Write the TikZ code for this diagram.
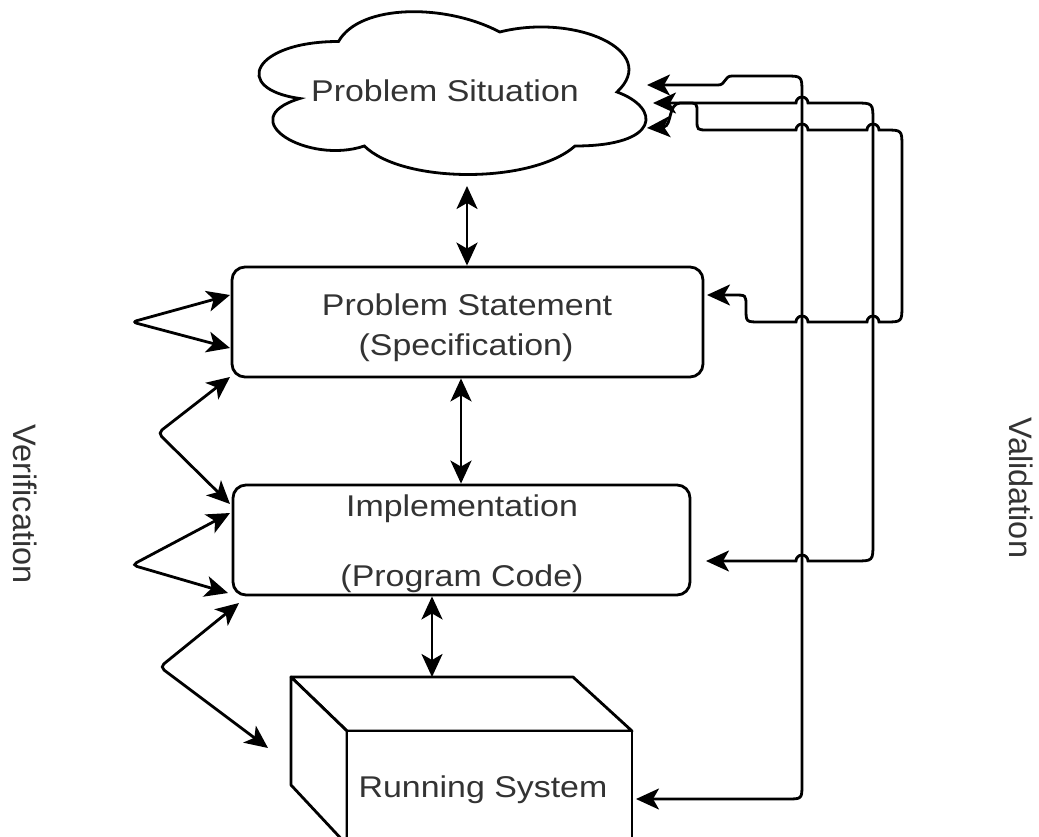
\documentclass[tikz,border=0pt]{standalone}
\usepackage{fontspec}
\setmainfont{Liberation Sans}
\newfontfamily\widefont[FakeStretch=1.13]{Liberation Sans}
\usetikzlibrary{arrows.meta}
\begin{document}
\begin{tikzpicture}[x=1pt,y=-1pt,
  ln/.style={line width=2.8pt, draw=black},
  tip/.style={ln, {Stealth[length=23pt,width=21pt,inset=6pt]}-{Stealth[length=23pt,width=21pt,inset=6pt]}},
  boxnode/.style={ln, rounded corners=13pt, fill=white, inner sep=0pt},
  lbl/.style={font=\widefont\fontsize{30}{36}\selectfont, text=black!80, inner sep=0pt, anchor=base},
  side/.style={font=\fontsize{32.5}{38}\selectfont, text=black!80, rotate=-90, inner sep=0pt}
]
\useasboundingbox (0,0) rectangle (1039,837);

% cloud
\draw[ln, fill=white] (338.5,41.5) .. controls (252.5,41.5) and (231,89) .. (299.8,98.5)
  .. controls (231,119.4) and (308.4,165) .. (364.3,146)
  .. controls (403,184) and (532,184) .. (575,146)
  .. controls (661,146) and (661,108) .. (617,92)
  .. controls (661,51) and (575,13) .. (499.75,32)
  .. controls (446,3.5) and (360,3.5) .. (338.5,41.5) -- cycle;
\node[lbl] (sit) at (445,102) {Problem Situation};

% boxes
\node[boxnode, minimum width=471pt, minimum height=110pt] (stmt) at (467.5,322) {};
\node[lbl] (t1) at (467,315) {Problem Statement};
\node[lbl] (t2) at (466,355) {(Specification)};
\node[boxnode, minimum width=457pt, minimum height=110pt] (impl) at (461.5,540) {};
\node[lbl] (t3) at (462,516) {Implementation};
\node[lbl] (t4) at (462,586) {(Program Code)};

% running system cube
\draw[ln, fill=white, line join=round] (291,677) -- (573,677) -- (632,731) -- (347,731) -- cycle;
\draw[ln, fill=white, line join=round] (291,677) -- (347,731) -- (347,845) -- (291,785) -- cycle;
\node[ln, fill=white, minimum width=285pt, minimum height=114pt, inner sep=0pt] (run) at (489.5,788) {};
\node[lbl] (runtxt) at (483,797) {Running System};

% side labels
\node[side] (ver) at (25,504) {Verification};
\node[side] (val) at (1021,488) {Validation};

% coordinates
\coordinate (sitS) at (467,186);
\coordinate (a2) at (461,0);
\coordinate (a3) at (432,0);
\coordinate (cubetop) at (432,677);
\coordinate (sitA) at (647,85);
\coordinate (sitB) at (653,103);
\coordinate (sitC) at (647,128);
\coordinate (runE) at (636,799);
\coordinate (implE) at (706,561);
\coordinate (stmtE) at (707,295);
\coordinate (v1a) at (230,295);
\coordinate (v1b) at (230,348);
\coordinate (v2a) at (230,377);
\coordinate (v2b) at (230,504);
\coordinate (v3a) at (230,513);
\coordinate (v3b) at (228,593);
\coordinate (v4a) at (239,603);
\coordinate (v4b) at (268,748);

% central arrows
\draw[tip] (sitS) -- (sitS |- stmt.north);
\draw[tip] (a2 |- stmt.south) -- (a2 |- impl.north);
\draw[tip] (a3 |- impl.south) -- (cubetop);

% verification arrows
\draw[tip, rounded corners=5pt] (v1a) -- (132,322) -- (v1b);
\draw[tip, rounded corners=5pt] (v2a) -- (158,433) -- (v2b);
\draw[tip, rounded corners=5pt] (v3a) -- (132,565) -- (v3b);
\draw[tip, rounded corners=5pt] (v4a) -- (160,667) -- (v4b);

% validation connectors
\draw[tip] (runE) -- (787,799) .. controls (802,799) .. (802,784) -- (802,93)
  .. controls (802,76) .. (785,76) -- (732,76) .. controls (724,76) and (726,85) .. (718,85) -- (sitA);
\draw[tip] (sitB) -- (796,103) arc[start angle=180,end angle=0,radius=6pt] -- (855,103)
  .. controls (873,103) .. (873,121) -- (873,543) .. controls (873,561) .. (855,561)
  -- (808,561) arc[start angle=0,end angle=180,radius=6pt] -- (implE);
\draw[tip] (sitC) -- (664,127) .. controls (672,125) and (668,104) .. (680,103) -- (688,103)
  .. controls (697,103) .. (697,113) -- (697,120) .. controls (697,130) .. (708,130)
  -- (796,130) arc[start angle=180,end angle=0,radius=6pt]
  -- (867,130) arc[start angle=180,end angle=0,radius=6pt]
  -- (885,130) .. controls (902,130) .. (902,147) -- (902,305) .. controls (902,322) .. (885,322)
  -- (879,322) arc[start angle=0,end angle=180,radius=6pt]
  -- (808,322) arc[start angle=0,end angle=180,radius=6pt]
  -- (760,322) .. controls (746,322) .. (746,309) -- (746,306) .. controls (746,295) .. (734,295) -- (stmtE);
\end{tikzpicture}
\end{document}
